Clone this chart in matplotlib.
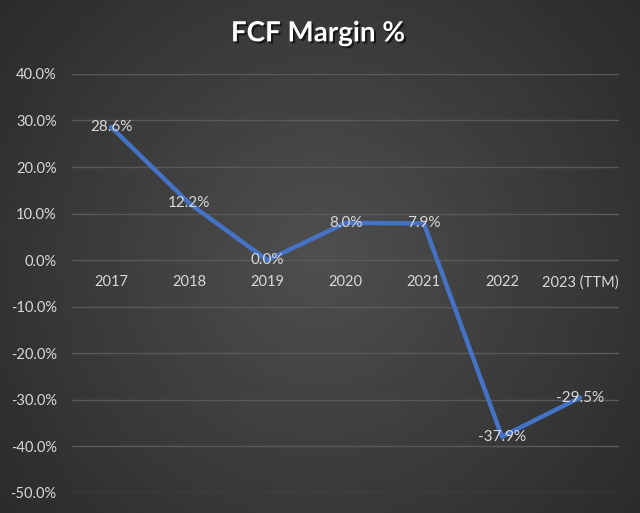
import numpy as np
import matplotlib
matplotlib.use('Agg')
import matplotlib.pyplot as plt
import matplotlib.patheffects as pe
from matplotlib.ticker import FuncFormatter

# data
years = ['2017', '2018', '2019', '2020', '2021', '2022', '2023 (TTM)']
fcf_margin = [28.6, 12.2, 0.0, 8.0, 7.9, -37.9, -29.5]

plt.rcParams['font.family'] = ['Lato', 'DejaVu Sans']
txt = '#d9d9d9'

fig = plt.figure(figsize=(6.4, 5.13), dpi=100)

# background gradient
bg = fig.add_axes([0, 0, 1, 1])
yy, xx = np.mgrid[0:1:300j, 0:1:300j]
r = np.sqrt((xx - 0.5) ** 2 + ((yy - 0.5) * 0.8) ** 2)
shade = 0.31 - 0.22 * r
bg.imshow(shade, cmap='gray', vmin=0, vmax=1, extent=[0, 1, 0, 1], aspect='auto')
bg.set_axis_off()

ax = fig.add_axes([0.1125, 0.039, 0.855, 0.817])
ax.patch.set_alpha(0)
x = np.arange(len(years))
ax.plot(x, fcf_margin, color='#4472c4', lw=3.2, solid_capstyle='round', zorder=3)
for xi, v in zip(x, fcf_margin):
    ax.text(xi, v, f'{v:.1f}%', color=txt, fontsize=11, ha='center', va='center', zorder=4)

ax.set_xlim(-0.5, len(years) - 0.5)
ax.set_ylim(-50, 40)
ax.set_yticks(np.arange(-50, 41, 10))
ax.yaxis.set_major_formatter(FuncFormatter(lambda v, p: f'{v:.1f}%'))
ax.grid(axis='y', color='#595959', lw=1)
ax.set_axisbelow(True)
ax.set_xticks(x)
ax.set_xticklabels(years)
for s in ax.spines.values():
    s.set_visible(False)
ax.spines['bottom'].set_position(('data', 0))
ax.tick_params(axis='x', length=0, pad=11, colors=txt, labelsize=10.5)
ax.tick_params(axis='y', length=0, pad=11, colors=txt, labelsize=10.5)

fig.text(0.497, 0.935, 'FCF Margin %', color='white', fontsize=20, fontweight='bold',
         ha='center', va='center',
         path_effects=[pe.withSimplePatchShadow(offset=(1.5, -1.5), shadow_rgbFace='black', alpha=0.6)])

fig.savefig('out.png', dpi=100)
